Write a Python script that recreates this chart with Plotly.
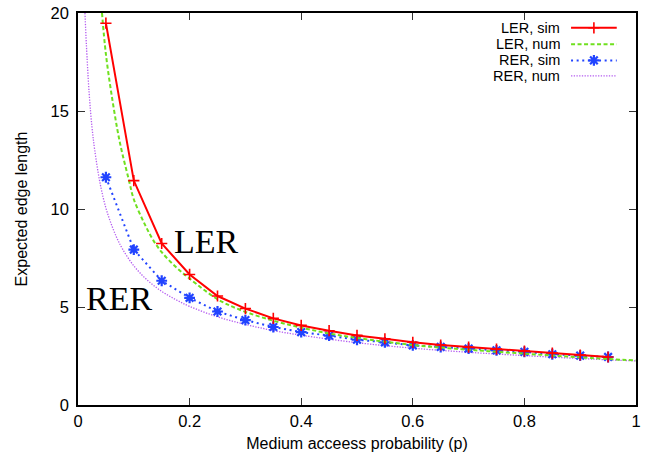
import plotly.graph_objects as go

# ---- data ----
p_sim = [0.05, 0.10, 0.15, 0.20, 0.25, 0.30, 0.35, 0.40, 0.45, 0.50,
         0.55, 0.60, 0.65, 0.70, 0.75, 0.80, 0.85, 0.90, 0.95]
ler_sim = [19.48, 11.45, 8.24, 6.66, 5.56, 4.92, 4.42, 4.06, 3.79, 3.55,
           3.38, 3.20, 3.06, 2.95, 2.85, 2.75, 2.65, 2.55, 2.45]
rer_sim = [11.62, 7.93, 6.34, 5.47, 4.77, 4.33, 3.98, 3.72, 3.54, 3.33,
           3.20, 3.04, 2.96, 2.88, 2.79, 2.71, 2.59, 2.52, 2.45]

p_ler_num = [0.043, 0.05, 0.062, 0.075, 0.091, 0.10, 0.12, 0.135, 0.15, 0.175,
             0.20, 0.25, 0.29, 0.35, 0.40, 0.45, 0.50, 0.60, 0.70, 0.80, 0.90, 1.00]
ler_num = [20.0, 17.9, 15.5, 13.4, 11.5, 10.5, 9.2, 8.4, 7.8, 7.05,
           6.45, 5.4, 4.86, 4.3, 3.95, 3.65, 3.42, 3.06, 2.82, 2.62, 2.43, 2.27]

p_rer_num = [0.0125, 0.015, 0.02, 0.025, 0.03, 0.04, 0.05, 0.06, 0.07, 0.08,
             0.10, 0.125, 0.15, 0.175, 0.20, 0.25, 0.30, 0.35, 0.40, 0.50,
             0.60, 0.70, 0.80, 0.90, 1.00]
rer_num = [20.0, 18.4, 15.9, 14.2, 13.0, 11.25, 10.05, 9.2, 8.5, 7.95,
           7.1, 6.35, 5.8, 5.38, 5.03, 4.5, 4.11, 3.8, 3.56, 3.18,
           2.9, 2.69, 2.52, 2.37, 2.25]

series_names = ["LER, sim", "LER, num", "RER, sim", "RER, num"]
x_ticks = [0, 0.2, 0.4, 0.6, 0.8, 1]
x_tick_labels = ["0", "0.2", "0.4", "0.6", "0.8", "1"]
y_ticks = [0, 5, 10, 15, 20]

# ---- styles ----
RED = "#ff0000"
GREEN = "#6fe01e"
BLUE = "#2244ff"
PURPLE = "#b45cf0"
styles = [
    dict(color=RED, width=2, dash="solid"),
    dict(color=GREEN, width=2, dash="4px,2.5px"),
    dict(color=BLUE, width=2, dash="2px,3.6px"),
    dict(color=PURPLE, width=1.3, dash="1.3px,1.4px"),
]
markers = [dict(symbol="cross-thin-open", size=8, color=RED, line=dict(color=RED, width=1.6)),
           None,
           dict(symbol="asterisk-open", size=9, color=BLUE, line=dict(color=BLUE, width=2.2)),
           None]

FONT = "Liberation Sans, Arial, sans-serif"
SERIF = "Liberation Serif, Times New Roman, serif"

fig = go.Figure()

fig.add_trace(go.Scatter(x=p_rer_num, y=rer_num, mode="lines", line=styles[3],
                         line_shape="spline", showlegend=False))
fig.add_trace(go.Scatter(x=p_sim, y=rer_sim, mode="lines+markers", line=styles[2],
                         marker=markers[2], showlegend=False))
fig.add_trace(go.Scatter(x=p_ler_num, y=ler_num, mode="lines", line=styles[1],
                         line_shape="spline", showlegend=False))
fig.add_trace(go.Scatter(x=p_sim, y=ler_sim, mode="lines+markers", line=styles[0],
                         marker=markers[0], showlegend=False))

# ---- custom gnuplot-style legend (text left, sample right) ----
leg_rows = [0.9623, 0.920, 0.8791, 0.8394]
leg_x0, leg_x1, leg_text_x = 0.8836, 0.9655, 0.865
for i, name in enumerate(series_names):
    fig.add_trace(go.Scatter(x=[leg_x0, leg_x1], y=[leg_rows[i], leg_rows[i]],
                             mode="lines", line=styles[i], xaxis="x2", yaxis="y2",
                             showlegend=False, hoverinfo="skip"))
    if markers[i] is not None:
        fig.add_trace(go.Scatter(x=[(leg_x0 + leg_x1) / 2], y=[leg_rows[i]],
                                 mode="markers", marker=markers[i], xaxis="x2",
                                 yaxis="y2", showlegend=False, hoverinfo="skip"))
    fig.add_annotation(x=leg_text_x, y=leg_rows[i], xref="paper", yref="paper",
                       text=name, showarrow=False, xanchor="right", yanchor="middle",
                       height=14, valign="middle", borderpad=0,
                       font=dict(family=FONT, size=14.5, color="black"))

# curve labels
fig.add_annotation(x=0.231, y=8.36, text="LER", showarrow=False, xanchor="center",
                   yanchor="middle", font=dict(family=SERIF, size=34, color="black"))
fig.add_annotation(x=0.074, y=5.43, text="RER", showarrow=False, xanchor="center",
                   yanchor="middle", font=dict(family=SERIF, size=34, color="black"))

axis_common = dict(showgrid=False, zeroline=False, showline=True, linecolor="black",
                   linewidth=1.5, mirror="ticks", ticks="inside", ticklen=7,
                   tickwidth=1.2, tickcolor="#333333", automargin=False,
                   tickfont=dict(family=FONT, size=16.5, color="black"))

fig.update_layout(
    width=655, height=459,
    margin=dict(l=78, r=19, t=12.5, b=53.5),
    paper_bgcolor="white", plot_bgcolor="white",
    xaxis=dict(range=[0, 1], tickvals=x_ticks, ticktext=x_tick_labels,
               title=dict(text="Medium acceess probability (p)", standoff=9,
                          font=dict(family=FONT, size=16, color="black")),
               ticklabelstandoff=0, **axis_common),
    yaxis=dict(range=[0, 20], tickvals=y_ticks,
               title=dict(text="Expected edge length", standoff=19,
                          font=dict(family=FONT, size=16, color="black")),
               ticklabelstandoff=4, **axis_common),
    xaxis2=dict(range=[0, 1], overlaying="x", visible=False),
    yaxis2=dict(range=[0, 1], overlaying="y", visible=False),
)

fig.write_html("out.html", config={"displayModeBar": False},
               post_script="document.body.style.margin='0';document.body.style.overflow='hidden';")
